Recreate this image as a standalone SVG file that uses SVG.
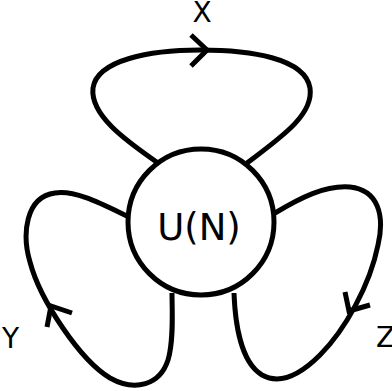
<svg xmlns="http://www.w3.org/2000/svg" width="392" height="391" viewBox="0 0 392 391">
<style>
.ln{fill:none;stroke:#000;stroke-width:5;stroke-linecap:butt;stroke-linejoin:miter}
.lb{font-family:"DejaVu Sans",sans-serif;fill:#000}
</style>
<rect width="392" height="391" fill="#fff"/>
<g id="connectors">
<path class="ln" d="M158,163 C 125,140 90,115 93,88 C 97,60 150,50 200,50 C 250,50 305,58 310,88 C 314,115 280,138 247,163"/>
<polyline class="ln" points="191,35 207,50 191,66"/>
<path class="ln" d="M127,216 C 100,203 75,190 55,193 C 25,197 22,235 30,262 C 40,300 80,360 110,378 C 135,392 160,385 168,360 C 174,340 172,310 172,293"/>
<polyline class="ln" points="72,313 51,306 47,327"/>
<path class="ln" d="M275,213 C 300,198 325,185 350,187 C 378,190 385,215 378,245 C 370,285 345,330 320,355 C 300,375 280,385 262,375 C 240,362 235,320 234,293"/>
<polyline class="ln" points="345,292 349,311 370,305"/>
</g>
<g id="node-U">
<circle cx="201" cy="222" r="73" fill="#fff" stroke="#000" stroke-width="5"/>
<text class="lb" x="199" y="240" font-size="37" text-anchor="middle">U(N)</text>
</g>
<g id="label-X"><text class="lb" x="202" y="22" font-size="28" text-anchor="middle">X</text></g>
<g id="label-Y"><text class="lb" x="2" y="348" font-size="28">Y</text></g>
<g id="label-Z"><text class="lb" x="376" y="347" font-size="28">Z</text></g>
</svg>
